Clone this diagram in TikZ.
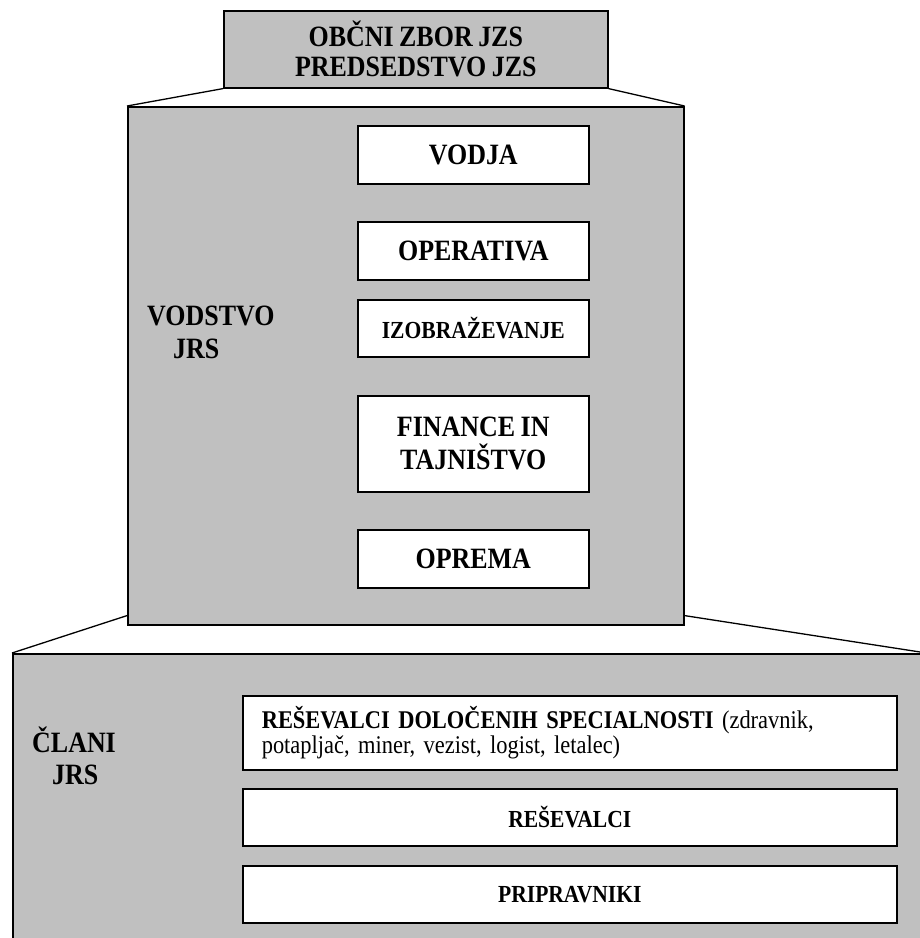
\documentclass[tikz,border=0pt]{standalone}
\usepackage{fontspec}
\setmainfont{Liberation Serif}[FakeStretch=0.88, WordSpace=0.85]
\usetikzlibrary{calc}
\definecolor{boxgray}{HTML}{C0C0C0}
\newcommand{\myBig}{\fontsize{29.5}{32}\selectfont\bfseries}
\newcommand{\mySmall}{\fontsize{24.5}{26}\selectfont\bfseries}
\tikzset{
  x=1pt, y=-1pt,
  graybox/.style={draw=black, fill=boxgray, line width=1.6pt, inner sep=0pt, anchor=north west},
  whitebox/.style={draw=black, fill=white, line width=1.6pt, inner sep=0pt, anchor=north west, align=center},
  label/.style={inner sep=0pt, anchor=base west, font=\myBig},
  conn/.style={draw=black, line width=1.3pt},
}
\begin{document}
\begin{tikzpicture}
\useasboundingbox (0,0) rectangle (920,938);
\clip (0,0) rectangle (920,938);
% bottom box (runs past the page edge)
\node[graybox, minimum width=913pt, minimum height=300pt] (bot) at (12,653) {};
% middle box
\node[graybox, minimum width=556pt, minimum height=518pt] (mid) at (127,106) {};
% top box
\node[graybox, minimum width=384pt, minimum height=77pt, align=center,
      font=\fontsize{29.5}{30}\selectfont\bfseries] (top) at (223,10)
      {OBČNI ZBOR JZS\\PREDSEDSTVO JZS};
% connectors
\coordinate (ml) at ($(mid.south west)+(0,-10)$);
\coordinate (mr) at ($(mid.south east)+(0,-10)$);
\draw[conn] (top.south west) -- (mid.north west);
\draw[conn] (top.south east) -- (mid.north east);
\draw[conn] (ml) -- (bot.north west);
\draw[conn] (mr) -- (bot.north east);
% inner boxes of the middle box
\node[whitebox, minimum width=231pt, minimum height=58pt, font=\myBig] (vodja) at (357,125) {VODJA};
\node[whitebox, minimum width=231pt, minimum height=58pt, font=\myBig] (oper) at (357,221) {OPERATIVA};
\node[whitebox, minimum width=231pt, minimum height=57pt, font=\mySmall] (izob) at (357,299) {IZOBRAŽEVANJE};
\node[whitebox, minimum width=231pt, minimum height=96pt, font=\fontsize{29.5}{33}\selectfont\bfseries] (fin) at (357,395) {FINANCE IN\\TAJNIŠTVO};
\node[whitebox, minimum width=231pt, minimum height=58pt, font=\myBig] (oprema) at (357,529) {OPREMA};
\node[label] (vodstvo) at (147,325) {VODSTVO};
\node[label] (vjrs) at (173,358) {JRS};
% inner boxes of the bottom box
\node[whitebox, minimum width=654pt, minimum height=74pt, text width=616pt, inner xsep=19pt,
      align=left, font=\fontsize{25.5}{25}\selectfont] (spec) at (242,695)
      {\textbf{REŠEVALCI DOLOČENIH SPECIALNOSTI} (zdravnik,\\potapljač, miner, vezist, logist, letalec)};
\node[whitebox, minimum width=654pt, minimum height=57pt, font=\mySmall] (resev) at (242,788) {REŠEVALCI};
\node[whitebox, minimum width=654pt, minimum height=57pt, font=\mySmall] (prip) at (242,865) {PRIPRAVNIKI};
\node[label] (clani) at (32,752) {ČLANI};
\node[label] (cjrs) at (52,784) {JRS};
\end{tikzpicture}
\end{document}
